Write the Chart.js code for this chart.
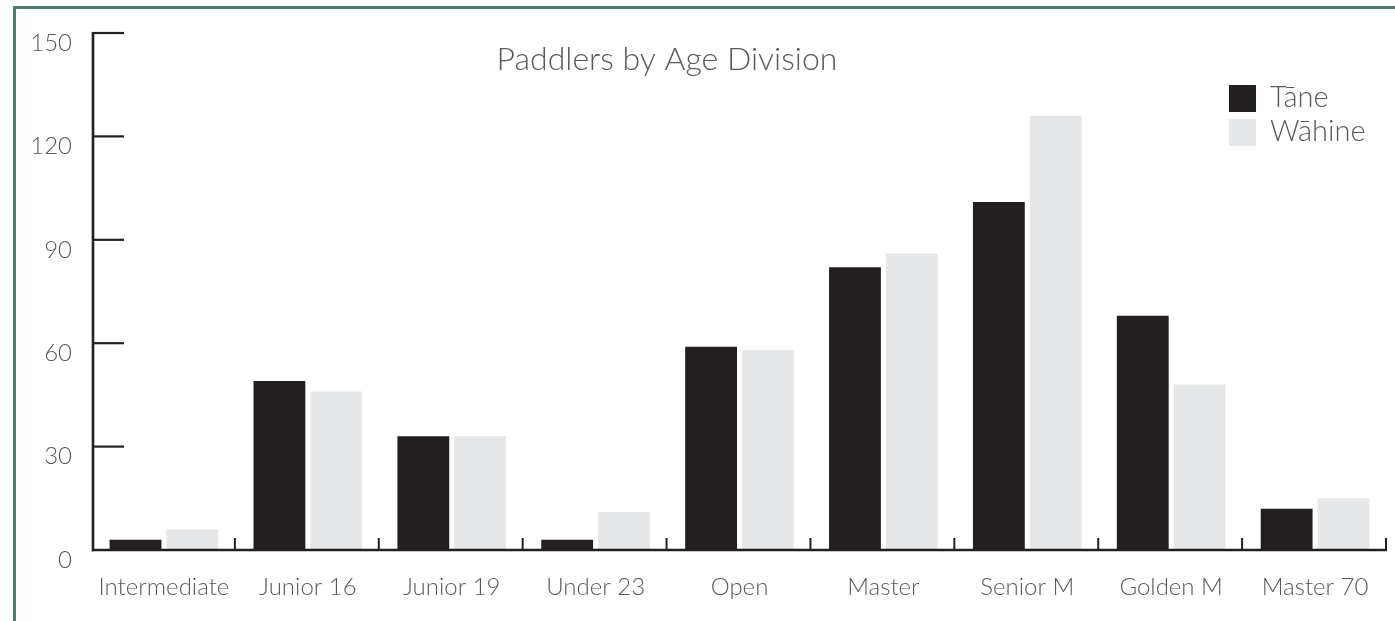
<!DOCTYPE html>
<html>
<head>
<meta charset="utf-8">
<script src="https://cdn.jsdelivr.net/npm/chart.js@4.4.1/dist/chart.umd.min.js"></script>
<style>
  html, body { margin: 0; padding: 0; background: #ffffff; overflow: hidden; }
  #wrap { position: relative; width: 1395px; height: 621px; }
  #frame { position: absolute; left: 13px; top: 6px; width: 1500px; height: 800px;
           border-left: 3px solid #4b8068; border-top: 3px solid #4b8068; box-sizing: border-box; }
  canvas { position: absolute; left: 0; top: 0; }
</style>
</head>
<body>
<div id="wrap">
  <div id="frame"></div>
  <canvas id="c" width="1395" height="621"></canvas>
</div>
<script>
const categories = ["Intermediate", "Junior 16", "Junior 19", "Under 23", "Open", "Master", "Senior M", "Golden M", "Master 70"];
const taneValues = [3, 49, 33, 3, 59, 82, 101, 68, 12];
const wahineValues = [6, 46, 33, 11, 58, 86, 126, 48, 15];
const seriesNames = ["Tāne", "Wāhine"];
const yTicks = [0, 30, 60, 90, 120, 150];
const chartTitle = "Paddlers by Age Division";

const DARK = "#231f20";
const LIGHT = "#e6e7e8";
const TEXT = "#58595b";
const FONT = "Lato, 'Open Sans', sans-serif";

const decorPlugin = {
  id: "decor",
  afterDatasetsDraw(chart) {
    const ctx = chart.ctx;
    const xs = chart.scales.x, ys = chart.scales.y;
    const left = chart.chartArea.left, right = chart.chartArea.right;
    const y0 = ys.getPixelForValue(0);
    const yTop = ys.getPixelForValue(yTicks[yTicks.length - 1]);
    ctx.save();
    ctx.strokeStyle = DARK;
    ctx.lineCap = "butt";
    // y axis line
    ctx.lineWidth = 2.6;
    ctx.beginPath();
    ctx.moveTo(left + 1, yTop - 1);
    ctx.lineTo(left + 1, y0 + 1.3);
    ctx.stroke();
    // x axis line
    ctx.beginPath();
    ctx.moveTo(left, y0);
    ctx.lineTo(right, y0);
    ctx.stroke();
    // y ticks (inward)
    ctx.lineWidth = 2.2;
    yTicks.forEach(v => {
      if (v === 0) return;
      const py = ys.getPixelForValue(v);
      ctx.beginPath();
      ctx.moveTo(left, py);
      ctx.lineTo(left + 32, py);
      ctx.stroke();
    });
    // x category boundary ticks (upward)
    const n = categories.length;
    const step = (right - left) / n;
    ctx.lineWidth = 2;
    for (let i = 1; i <= n; i++) {
      const px = left + i * step - 1;
      ctx.beginPath();
      ctx.moveTo(px, y0);
      ctx.lineTo(px, y0 - 12);
      ctx.stroke();
    }
    // y labels
    ctx.fillStyle = TEXT;
    ctx.font = "300 24px " + FONT;
    ctx.textAlign = "right";
    ctx.textBaseline = "middle";
    yTicks.forEach(v => {
      ctx.fillText(String(v), 72, ys.getPixelForValue(v) + 10);
    });
    // x labels
    ctx.textAlign = "center";
    ctx.font = "300 24px " + FONT;
    categories.forEach((c, i) => {
      ctx.fillText(c, xs.getPixelForValue(i), y0 + 37);
    });
    // title
    ctx.font = "300 32px " + FONT;
    ctx.fillText(chartTitle, 667, 60);
    // legend
    const colors = [DARK, LIGHT];
    ctx.textAlign = "left";
    ctx.font = "300 29px " + FONT;
    seriesNames.forEach((s, i) => {
      const top = 85 + i * 34;
      ctx.fillStyle = colors[i];
      ctx.fillRect(1229, top, 27, 27);
      ctx.fillStyle = TEXT;
      ctx.fillText(s, 1270, top + 13);
    });
    ctx.restore();
  }
};

new Chart(document.getElementById("c"), {
  type: "bar",
  data: {
    labels: categories,
    datasets: [
      { label: seriesNames[0], data: taneValues, backgroundColor: DARK, borderWidth: 0 },
      { label: seriesNames[1], data: wahineValues, backgroundColor: LIGHT, borderWidth: 0 }
    ]
  },
  options: {
    responsive: false,
    animation: false,
    devicePixelRatio: 1,
    layout: { padding: { left: 92, right: 8, top: 33, bottom: 71 } },
    datasets: { bar: { categoryPercentage: 0.79, barPercentage: 0.912 } },
    scales: {
      x: { display: false, offset: true },
      y: { display: false, min: 0, max: 150 }
    },
    plugins: { legend: { display: false }, title: { display: false }, tooltip: { enabled: false } }
  },
  plugins: [decorPlugin]
});
</script>
</body>
</html>
